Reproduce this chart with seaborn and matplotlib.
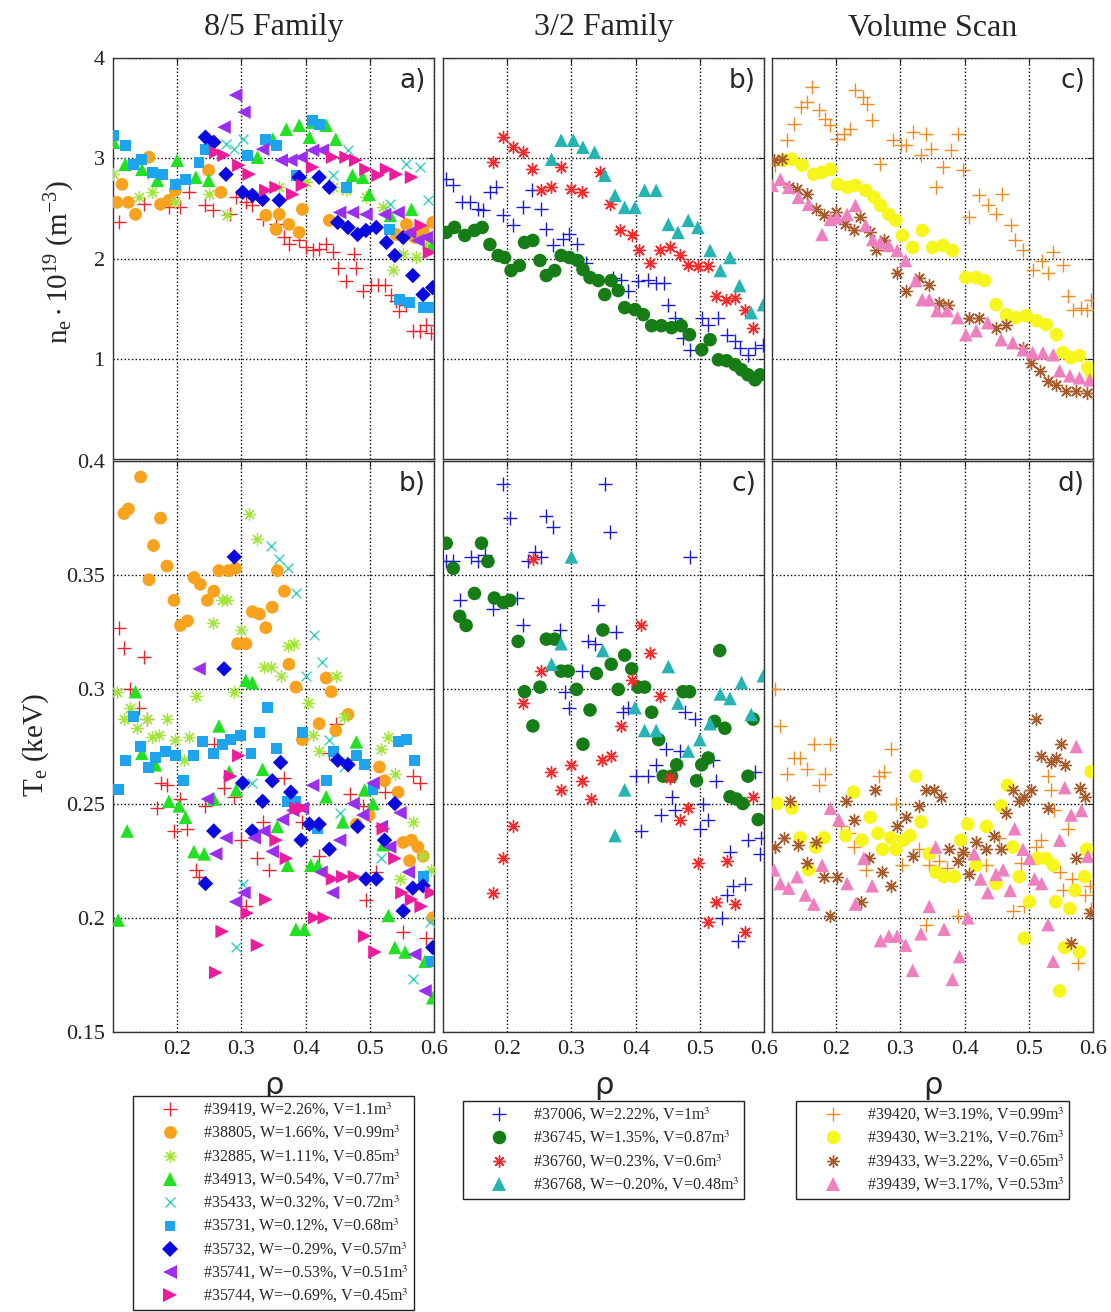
import numpy as np
import matplotlib
matplotlib.use('Agg')
import matplotlib.pyplot as plt
from matplotlib.lines import Line2D
import seaborn as sns

# ---------------- data ----------------
# top row: n_e * 1e19 (m^-3) vs rho ; bottom row: T_e (keV) vs rho

# 8/5 family
ne_39419_rho = [0.109,0.148,0.187,0.205,0.218,0.244,0.255,0.283,0.291,0.307,0.317,0.333,0.354,0.367,0.374,0.390,0.400,0.411,0.421,0.432,0.442,0.450,0.463,0.476,0.479,0.489,0.502,0.513,0.523,0.533,0.541,0.546,0.557,0.567,0.578,0.588,0.596]
ne_39419_val = [2.36,2.54,2.51,2.51,2.66,2.53,2.48,2.44,2.61,2.56,2.53,2.39,2.34,2.21,2.14,2.18,2.11,2.08,2.09,2.14,2.06,1.91,1.78,2.04,1.91,1.68,1.74,1.74,1.74,1.64,1.58,1.48,1.54,1.28,1.28,1.34,1.26]
ne_38805_rho = [0.106,0.124,0.135,0.114,0.156,0.174,0.187,0.197,0.249,0.268,0.338,0.359,0.354,0.374,0.390,0.395,0.437,0.541,0.557,0.570,0.583,0.598]
ne_38805_val = [2.56,2.56,2.44,2.74,3.01,2.54,2.58,2.68,2.88,2.66,2.43,2.44,2.29,2.34,2.26,2.49,2.38,2.24,2.34,2.21,2.28,2.36]
ne_32885_rho = [0.100,0.140,0.161,0.197,0.249,0.278,0.328,0.359,0.400,0.442,0.463,0.494,0.520,0.536,0.552,0.572,0.588]
ne_32885_val = [2.84,2.61,2.66,2.56,2.64,2.43,2.64,2.71,2.76,2.71,2.68,2.61,2.51,1.89,2.04,2.01,2.14]
ne_34913_rho = [0.101,0.119,0.145,0.169,0.200,0.229,0.249,0.325,0.349,0.370,0.390,0.411,0.432,0.406,0.447,0.473,0.489,0.499,0.532,0.565,0.598]
ne_34913_val = [3.16,2.94,2.89,2.78,2.98,2.81,2.78,3.01,3.19,3.29,3.33,3.36,3.33,3.21,3.19,2.83,2.81,2.64,2.43,2.49,2.14]
ne_35433_rho = [0.161,0.276,0.289,0.302,0.442,0.466,0.531,0.557,0.578,0.591]
ne_35433_val = [2.84,3.14,3.09,3.19,2.83,3.08,2.54,2.94,2.91,2.58]
ne_35731_rho = [0.101,0.119,0.132,0.145,0.161,0.177,0.197,0.213,0.234,0.244,0.309,0.338,0.354,0.385,0.411,0.421,0.463,0.531,0.546,0.562,0.583,0.598]
ne_35731_val = [3.23,3.13,2.94,2.99,2.86,2.84,2.74,2.79,2.96,3.09,3.03,3.19,3.13,2.83,3.38,3.34,2.71,2.29,1.59,1.56,1.51,1.51]
ne_35732_rho = [0.244,0.257,0.276,0.302,0.317,0.333,0.359,0.390,0.421,0.437,0.450,0.466,0.481,0.494,0.510,0.526,0.539,0.552,0.567,0.583,0.598]
ne_35732_val = [3.21,3.16,2.84,2.66,2.63,2.59,2.58,2.81,2.81,2.71,2.36,2.31,2.24,2.28,2.31,2.16,2.03,2.21,1.83,1.64,1.71]
ne_35741_rho = [0.273,0.291,0.304,0.333,0.362,0.377,0.393,0.411,0.426,0.453,0.473,0.494,0.523,0.544,0.562,0.575,0.588]
ne_35741_val = [3.31,3.63,3.46,3.09,2.98,2.98,3.01,3.08,3.08,2.46,2.46,2.44,2.44,2.46,2.26,2.18,2.21]
ne_35744_rho = [0.260,0.273,0.296,0.312,0.338,0.354,0.380,0.395,0.411,0.442,0.463,0.478,0.494,0.513,0.526,0.541,0.565,0.580,0.593]
ne_35744_val = [3.06,3.03,2.93,2.84,2.68,2.71,2.64,2.73,2.91,3.01,3.01,2.98,2.89,2.83,2.89,2.84,2.81,2.33,2.06]

te_39419_rho = [0.109,0.117,0.148,0.127,0.140,0.153,0.174,0.184,0.169,0.205,0.195,0.216,0.229,0.234,0.244,0.257,0.273,0.289,0.300,0.307,0.325,0.333,0.343,0.367,0.395,0.421,0.437,0.447,0.469,0.489,0.494,0.510,0.523,0.552,0.567,0.578,0.588]
te_39419_val = [0.327,0.318,0.314,0.300,0.292,0.287,0.259,0.258,0.248,0.252,0.238,0.239,0.221,0.218,0.249,0.276,0.257,0.253,0.234,0.205,0.226,0.242,0.221,0.261,0.242,0.227,0.272,0.285,0.254,0.249,0.208,0.220,0.255,0.194,0.262,0.259,0.191]
te_38805_rho = [0.117,0.124,0.143,0.174,0.163,0.184,0.156,0.195,0.205,0.216,0.226,0.236,0.257,0.247,0.265,0.280,0.291,0.294,0.307,0.317,0.328,0.338,0.348,0.356,0.367,0.374,0.385,0.395,0.421,0.432,0.440,0.447,0.466,0.479,0.499,0.515,0.523,0.544,0.552,0.565,0.575,0.583,0.562,0.598]
te_38805_val = [0.377,0.379,0.393,0.375,0.363,0.354,0.348,0.339,0.328,0.330,0.349,0.346,0.343,0.339,0.352,0.352,0.353,0.320,0.320,0.334,0.333,0.327,0.336,0.352,0.343,0.311,0.301,0.278,0.285,0.305,0.299,0.282,0.289,0.241,0.245,0.266,0.260,0.255,0.233,0.234,0.231,0.227,0.225,0.200]
te_32885_rho = [0.106,0.117,0.127,0.138,0.153,0.161,0.171,0.184,0.197,0.210,0.218,0.229,0.255,0.270,0.278,0.289,0.299,0.312,0.325,0.335,0.346,0.361,0.372,0.382,0.404,0.411,0.421,0.447,0.460,0.465,0.528,0.518,0.539,0.547,0.567,0.583,0.596]
te_32885_val = [0.299,0.287,0.292,0.283,0.287,0.279,0.280,0.287,0.278,0.269,0.279,0.297,0.329,0.339,0.339,0.299,0.326,0.377,0.366,0.310,0.310,0.306,0.319,0.320,0.294,0.280,0.273,0.306,0.288,0.268,0.279,0.274,0.263,0.217,0.242,0.227,0.221]
te_34913_rho = [0.108,0.122,0.135,0.145,0.166,0.187,0.203,0.213,0.226,0.242,0.257,0.265,0.281,0.292,0.307,0.317,0.333,0.356,0.372,0.385,0.398,0.408,0.419,0.432,0.458,0.479,0.492,0.505,0.521,0.529,0.539,0.555,0.586,0.598]
te_34913_val = [0.199,0.238,0.299,0.272,0.267,0.251,0.249,0.244,0.229,0.228,0.252,0.284,0.264,0.256,0.304,0.303,0.265,0.240,0.223,0.195,0.195,0.223,0.223,0.253,0.242,0.277,0.256,0.250,0.232,0.201,0.187,0.185,0.181,0.165]
te_35433_rho = [0.291,0.302,0.317,0.346,0.359,0.372,0.385,0.400,0.413,0.426,0.437,0.453,0.460,0.518,0.567,0.593]
te_35433_val = [0.187,0.215,0.259,0.363,0.357,0.353,0.342,0.306,0.324,0.312,0.278,0.246,0.266,0.226,0.173,0.198]
te_35731_rho = [0.109,0.119,0.132,0.143,0.156,0.166,0.182,0.197,0.210,0.226,0.239,0.257,0.270,0.283,0.299,0.315,0.328,0.341,0.354,0.372,0.385,0.395,0.419,0.432,0.444,0.479,0.492,0.505,0.544,0.557,0.570,0.583,0.596]
te_35731_val = [0.256,0.269,0.288,0.275,0.266,0.270,0.273,0.271,0.260,0.271,0.277,0.272,0.276,0.278,0.280,0.272,0.281,0.292,0.274,0.251,0.251,0.281,0.239,0.260,0.273,0.271,0.267,0.256,0.277,0.278,0.269,0.218,0.181]
te_35732_rho = [0.289,0.273,0.244,0.257,0.302,0.317,0.333,0.348,0.361,0.377,0.393,0.406,0.421,0.437,0.450,0.466,0.481,0.494,0.510,0.523,0.539,0.552,0.567,0.583,0.598]
te_35732_val = [0.358,0.309,0.215,0.238,0.259,0.238,0.251,0.260,0.268,0.255,0.234,0.241,0.241,0.230,0.269,0.267,0.240,0.217,0.217,0.234,0.250,0.203,0.213,0.214,0.187]
te_35741_rho = [0.234,0.247,0.260,0.276,0.291,0.304,0.320,0.335,0.348,0.364,0.380,0.395,0.411,0.424,0.442,0.453,0.474,0.489,0.505,0.518,0.531,0.547,0.560,0.570,0.586]
te_35741_val = [0.309,0.252,0.228,0.235,0.207,0.211,0.235,0.238,0.229,0.243,0.247,0.248,0.258,0.220,0.211,0.234,0.250,0.245,0.259,0.240,0.231,0.246,0.220,0.184,0.168]
te_35744_rho = [0.296,0.283,0.260,0.270,0.309,0.325,0.338,0.354,0.370,0.385,0.395,0.414,0.429,0.442,0.458,0.476,0.492,0.508,0.521,0.539,0.550,0.565,0.580,0.596]
te_35744_val = [0.271,0.262,0.176,0.194,0.202,0.188,0.208,0.234,0.226,0.248,0.248,0.200,0.200,0.217,0.218,0.218,0.192,0.185,0.239,0.226,0.211,0.208,0.205,0.211]

# 3/2 family
ne_37006_rho = [0.105,0.116,0.129,0.142,0.155,0.162,0.173,0.183,0.194,0.209,0.225,0.238,0.253,0.261,0.271,0.287,0.297,0.308,0.323,0.365,0.378,0.388,0.404,0.419,0.432,0.445,0.451,0.462,0.474,0.484,0.503,0.513,0.529,0.542,0.555,0.562,0.575,0.586,0.599]
ne_37006_val = [2.79,2.73,2.56,2.56,2.49,2.48,2.66,2.71,2.43,2.33,2.51,2.68,2.49,2.29,2.13,2.19,2.24,2.14,1.96,1.81,1.79,1.68,1.78,1.79,1.76,1.76,1.54,1.41,1.21,1.09,1.41,1.34,1.41,1.24,1.18,1.11,1.04,1.11,1.14]
ne_36745_rho = [0.105,0.118,0.134,0.149,0.161,0.173,0.186,0.196,0.206,0.219,0.227,0.240,0.251,0.261,0.274,0.284,0.297,0.310,0.318,0.329,0.342,0.352,0.362,0.373,0.383,0.399,0.412,0.425,0.440,0.456,0.471,0.484,0.503,0.516,0.529,0.542,0.555,0.565,0.575,0.586,0.594]
ne_36745_val = [2.26,2.31,2.23,2.28,2.31,2.14,2.03,2.01,1.88,1.93,2.16,2.18,1.98,1.83,1.88,2.03,2.01,1.98,1.89,1.81,1.78,1.64,1.78,1.68,1.51,1.49,1.44,1.33,1.33,1.31,1.33,1.24,1.09,1.19,0.99,0.98,0.94,0.89,0.84,0.79,0.84]
ne_36760_rho = [0.178,0.194,0.209,0.225,0.238,0.253,0.269,0.284,0.300,0.316,0.344,0.360,0.375,0.394,0.406,0.422,0.438,0.453,0.469,0.482,0.497,0.513,0.526,0.541,0.555,0.570,0.583]
ne_36760_val = [2.96,3.21,3.11,3.06,2.89,2.68,2.71,2.91,2.69,2.66,2.86,2.54,2.28,2.23,2.08,1.96,2.08,2.11,2.03,1.94,1.93,1.93,1.63,1.59,1.61,1.49,1.31]
ne_36768_rho = [0.269,0.284,0.303,0.318,0.336,0.352,0.368,0.383,0.399,0.414,0.432,0.451,0.466,0.482,0.497,0.516,0.532,0.547,0.562,0.580,0.599]
ne_36768_val = [2.99,3.18,3.18,3.11,3.06,2.83,2.63,2.51,2.51,2.68,2.68,2.34,2.26,2.38,2.31,2.08,1.88,2.01,1.73,1.46,1.54]

te_37006_rho = [0.105,0.116,0.126,0.144,0.155,0.165,0.178,0.194,0.204,0.215,0.225,0.232,0.243,0.253,0.261,0.271,0.282,0.290,0.297,0.316,0.326,0.336,0.342,0.352,0.360,0.370,0.381,0.388,0.401,0.409,0.419,0.432,0.448,0.456,0.440,0.461,0.469,0.477,0.484,0.492,0.500,0.505,0.513,0.521,0.526,0.534,0.542,0.547,0.552,0.560,0.570,0.575,0.586,0.593,0.596]
te_37006_val = [0.356,0.356,0.339,0.358,0.356,0.359,0.335,0.390,0.375,0.340,0.328,0.356,0.360,0.358,0.376,0.371,0.326,0.299,0.292,0.308,0.321,0.320,0.337,0.390,0.369,0.325,0.290,0.292,0.262,0.238,0.262,0.267,0.274,0.253,0.245,0.247,0.273,0.290,0.358,0.287,0.239,0.250,0.243,0.269,0.260,0.200,0.210,0.229,0.214,0.190,0.215,0.234,0.264,0.228,0.235]
te_36745_rho = [0.105,0.116,0.126,0.136,0.149,0.160,0.170,0.180,0.194,0.204,0.217,0.227,0.240,0.251,0.261,0.274,0.284,0.295,0.308,0.318,0.329,0.339,0.349,0.362,0.373,0.383,0.394,0.404,0.414,0.425,0.436,0.443,0.456,0.464,0.474,0.484,0.495,0.503,0.513,0.523,0.531,0.539,0.547,0.557,0.567,0.575,0.583,0.591]
te_36745_val = [0.364,0.353,0.332,0.328,0.342,0.364,0.356,0.340,0.338,0.339,0.321,0.299,0.284,0.301,0.322,0.322,0.308,0.308,0.300,0.276,0.291,0.307,0.326,0.311,0.300,0.315,0.309,0.301,0.301,0.290,0.278,0.262,0.262,0.267,0.299,0.299,0.260,0.267,0.270,0.286,0.317,0.283,0.253,0.252,0.250,0.262,0.287,0.243]
te_36760_rho = [0.178,0.194,0.209,0.225,0.240,0.253,0.269,0.284,0.300,0.316,0.331,0.347,0.362,0.378,0.394,0.409,0.422,0.438,0.453,0.469,0.482,0.497,0.513,0.526,0.542,0.555,0.570,0.583]
te_36760_val = [0.211,0.226,0.240,0.294,0.357,0.308,0.264,0.256,0.267,0.260,0.252,0.269,0.271,0.284,0.304,0.328,0.316,0.297,0.261,0.243,0.248,0.224,0.198,0.207,0.225,0.206,0.194,0.253]
te_36768_rho = [0.269,0.284,0.300,0.349,0.368,0.383,0.399,0.414,0.432,0.451,0.466,0.482,0.500,0.516,0.532,0.547,0.565,0.580,0.599]
te_36768_val = [0.311,0.320,0.358,0.317,0.236,0.256,0.292,0.282,0.282,0.310,0.294,0.273,0.278,0.285,0.298,0.296,0.303,0.289,0.306]

# volume scan
ne_39420_rho = [0.105,0.123,0.134,0.145,0.155,0.163,0.173,0.183,0.191,0.202,0.212,0.222,0.230,0.241,0.248,0.256,0.269,0.288,0.301,0.309,0.319,0.332,0.340,0.348,0.355,0.366,0.379,0.389,0.397,0.407,0.423,0.436,0.449,0.459,0.472,0.478,0.491,0.506,0.520,0.530,0.538,0.553,0.561,0.569,0.582,0.590,0.597]
ne_39420_val = [2.93,3.18,3.34,3.51,3.56,3.71,3.48,3.39,3.33,3.19,3.24,3.29,3.68,3.61,3.54,3.38,2.94,3.18,3.13,3.13,3.26,3.03,3.24,3.09,2.71,2.91,3.08,3.24,2.88,2.41,2.63,2.53,2.44,2.64,2.33,2.18,2.08,1.89,1.98,1.86,2.06,1.94,1.63,1.49,1.51,1.49,1.59]
ne_39430_rho = [0.118,0.131,0.147,0.165,0.178,0.191,0.202,0.217,0.230,0.246,0.259,0.269,0.282,0.293,0.303,0.319,0.334,0.350,0.366,0.381,0.402,0.418,0.431,0.449,0.465,0.480,0.496,0.512,0.527,0.543,0.553,0.566,0.579,0.592,0.598]
ne_39430_val = [2.98,2.99,2.93,2.84,2.86,2.89,2.74,2.71,2.73,2.68,2.61,2.53,2.44,2.38,2.23,2.11,2.28,2.11,2.13,2.08,1.81,1.81,1.78,1.54,1.44,1.41,1.43,1.38,1.34,1.24,1.06,1.01,1.03,0.91,0.84]
ne_39433_rho = [0.103,0.116,0.126,0.139,0.155,0.168,0.181,0.199,0.214,0.227,0.237,0.252,0.262,0.274,0.295,0.308,0.329,0.345,0.360,0.374,0.407,0.423,0.449,0.465,0.491,0.503,0.517,0.530,0.543,0.558,0.574,0.590]
ne_39433_val = [2.98,2.99,2.71,2.69,2.64,2.49,2.43,2.46,2.34,2.28,2.41,2.26,2.08,2.18,1.86,1.68,1.81,1.74,1.56,1.54,1.41,1.41,1.31,1.34,1.11,0.96,0.88,0.78,0.74,0.68,0.68,0.66]
ne_39439_rho = [0.100,0.113,0.126,0.141,0.157,0.178,0.191,0.201,0.217,0.230,0.246,0.257,0.269,0.282,0.295,0.308,0.324,0.334,0.345,0.357,0.373,0.389,0.402,0.418,0.436,0.457,0.475,0.491,0.506,0.522,0.538,0.548,0.564,0.579,0.595]
ne_39439_val = [2.73,2.79,2.71,2.61,2.54,2.24,2.39,2.41,2.44,2.53,2.33,2.19,2.16,2.13,2.08,1.98,1.78,1.59,1.59,1.48,1.48,1.41,1.24,1.28,1.36,1.19,1.16,1.09,1.06,1.06,1.04,0.88,0.83,0.81,0.79]

te_39420_rho = [0.105,0.113,0.123,0.134,0.144,0.155,0.165,0.173,0.183,0.191,0.207,0.220,0.228,0.246,0.267,0.274,0.285,0.293,0.303,0.329,0.340,0.345,0.360,0.373,0.389,0.397,0.433,0.454,0.475,0.488,0.493,0.511,0.519,0.530,0.535,0.540,0.548,0.553,0.561,0.568,0.576,0.587,0.595,0.597]
te_39420_val = [0.300,0.284,0.263,0.270,0.270,0.265,0.276,0.258,0.263,0.276,0.240,0.237,0.231,0.221,0.262,0.264,0.274,0.250,0.223,0.230,0.197,0.223,0.225,0.222,0.201,0.228,0.223,0.235,0.203,0.224,0.205,0.231,0.234,0.262,0.256,0.247,0.220,0.212,0.239,0.217,0.180,0.210,0.214,0.204]
te_39430_rho = [0.108,0.131,0.144,0.157,0.168,0.181,0.215,0.227,0.240,0.253,0.265,0.272,0.285,0.293,0.305,0.315,0.324,0.332,0.345,0.355,0.368,0.384,0.394,0.405,0.418,0.434,0.449,0.467,0.457,0.475,0.485,0.493,0.501,0.514,0.527,0.538,0.542,0.548,0.556,0.564,0.572,0.579,0.587,0.590,0.597]
te_39430_val = [0.250,0.248,0.235,0.221,0.231,0.235,0.236,0.255,0.234,0.244,0.237,0.230,0.235,0.230,0.234,0.236,0.262,0.242,0.228,0.220,0.218,0.218,0.234,0.241,0.223,0.240,0.215,0.258,0.249,0.231,0.218,0.191,0.207,0.226,0.226,0.223,0.207,0.168,0.187,0.204,0.212,0.185,0.218,0.230,0.264]
te_39433_rho = [0.105,0.118,0.128,0.141,0.155,0.168,0.181,0.191,0.202,0.215,0.228,0.238,0.251,0.261,0.272,0.285,0.295,0.308,0.319,0.329,0.340,0.353,0.363,0.376,0.389,0.397,0.407,0.418,0.433,0.446,0.457,0.465,0.475,0.485,0.493,0.503,0.511,0.519,0.530,0.535,0.543,0.550,0.557,0.566,0.574,0.579,0.587,0.595]
te_39433_val = [0.231,0.235,0.251,0.232,0.224,0.233,0.218,0.201,0.218,0.251,0.243,0.207,0.226,0.256,0.220,0.214,0.240,0.244,0.227,0.249,0.256,0.256,0.253,0.230,0.225,0.229,0.219,0.233,0.230,0.236,0.230,0.246,0.256,0.251,0.253,0.256,0.287,0.271,0.248,0.268,0.270,0.276,0.267,0.189,0.226,0.257,0.253,0.202]
te_39439_rho = [0.103,0.113,0.126,0.139,0.152,0.165,0.178,0.191,0.204,0.217,0.230,0.243,0.256,0.269,0.282,0.295,0.308,0.319,0.332,0.345,0.355,0.368,0.381,0.392,0.405,0.415,0.425,0.436,0.449,0.460,0.471,0.478,0.491,0.501,0.509,0.520,0.530,0.538,0.548,0.556,0.566,0.574,0.582,0.592]
te_39439_val = [0.221,0.215,0.213,0.218,0.210,0.206,0.223,0.248,0.243,0.215,0.206,0.226,0.214,0.190,0.192,0.192,0.188,0.177,0.193,0.205,0.231,0.195,0.173,0.183,0.200,0.228,0.217,0.211,0.219,0.221,0.212,0.239,0.230,0.226,0.217,0.215,0.197,0.181,0.234,0.257,0.245,0.275,0.247,0.227]

col_titles = ['8/5 Family', '3/2 Family', 'Volume Scan']
top_tags = ['a)', 'b)', 'c)']
bot_tags = ['b)', 'c)', 'd)']

# shots per column, with legend labels
columns = [
    [('39419', '#39419, W=2.26%, V=1.1m$^3$'),
     ('38805', '#38805, W=1.66%, V=0.99m$^3$'),
     ('32885', '#32885, W=1.11%, V=0.85m$^3$'),
     ('34913', '#34913, W=0.54%, V=0.77m$^3$'),
     ('35433', '#35433, W=0.32%, V=0.72m$^3$'),
     ('35731', '#35731, W=0.12%, V=0.68m$^3$'),
     ('35732', '#35732, W=\u22120.29%, V=0.57m$^3$'),
     ('35741', '#35741, W=\u22120.53%, V=0.51m$^3$'),
     ('35744', '#35744, W=\u22120.69%, V=0.45m$^3$')],
    [('37006', '#37006, W=2.22%, V=1m$^3$'),
     ('36745', '#36745, W=1.35%, V=0.87m$^3$'),
     ('36760', '#36760, W=0.23%, V=0.6m$^3$'),
     ('36768', '#36768, W=\u22120.20%, V=0.48m$^3$')],
    [('39420', '#39420, W=3.19%, V=0.99m$^3$'),
     ('39430', '#39430, W=3.21%, V=0.76m$^3$'),
     ('39433', '#39433, W=3.22%, V=0.65m$^3$'),
     ('39439', '#39439, W=3.17%, V=0.53m$^3$')],
]

ASTER = (8, 2, 0)
style = {
    '39419': dict(marker='+', color='#e8262b', s=110, lw=1.0),
    '38805': dict(marker='o', color='#f9a21e', s=85, lw=0),
    '32885': dict(marker=ASTER, color='#a2e63c', s=75, lw=0.9),
    '34913': dict(marker='^', color='#22e022', s=95, lw=0),
    '35433': dict(marker='x', color='#35d0c0', s=50, lw=1.0),
    '35731': dict(marker='s', color='#1ea4ee', s=62, lw=0),
    '35732': dict(marker='D', color='#0a0ae0', s=62, lw=0),
    '35741': dict(marker='<', color='#9a2ff0', s=95, lw=0),
    '35744': dict(marker='>', color='#ee1b9c', s=95, lw=0),
    '37006': dict(marker='+', color='#1a1ad0', s=110, lw=1.0),
    '36745': dict(marker='o', color='#167c16', s=95, lw=0),
    '36760': dict(marker=ASTER, color='#f52a2a', s=75, lw=1.0),
    '36768': dict(marker='^', color='#24b4b4', s=95, lw=0),
    '39420': dict(marker='+', color='#f08c1e', s=110, lw=1.0),
    '39430': dict(marker='o', color='#f6f61c', s=95, lw=0),
    '39433': dict(marker=ASTER, color='#a85c2c', s=75, lw=1.0),
    '39439': dict(marker='^', color='#ee80bf', s=95, lw=0),
}

sns.set_style('white')
plt.rcParams['font.family'] = ['Liberation Serif', 'DejaVu Serif']
plt.rcParams['mathtext.fontset'] = 'stix'

W, H = 1111, 1312
fig = plt.figure(figsize=(W / 100, H / 100), dpi=100)

lefts = [113, 443, 772]
aw = 321
legend_tops = [1096, 1101, 1101]
g = globals()

for c in range(3):
    ax_t = fig.add_axes([lefts[c] / W, 1 - 459 / H, aw / W, 401 / H])
    ax_b = fig.add_axes([lefts[c] / W, 1 - 1032 / H, aw / W, 571 / H])
    handles, labels = [], []
    for shot, lab in columns[c]:
        st = style[shot]
        filled = st['lw'] == 0
        for ax, pre in ((ax_t, 'ne_'), (ax_b, 'te_')):
            sns.scatterplot(x=g[pre + shot + '_rho'], y=g[pre + shot + '_val'], ax=ax,
                            marker=st['marker'], s=st['s'], color=st['color'],
                            edgecolor='none' if filled else st['color'],
                            linewidth=st['lw'], legend=False, zorder=3, clip_on=True)
        handles.append(Line2D([], [], linestyle='none', marker=st['marker'],
                              markersize=np.sqrt(st['s']), color=st['color'],
                              markeredgecolor=st['color'],
                              markeredgewidth=st['lw'] if not filled else 0))
        labels.append(lab)

    for ax in (ax_t, ax_b):
        ax.set_xlim(0.1, 0.6)
        ax.set_xticks([0.2, 0.3, 0.4, 0.5, 0.6])
        ax.grid(True, linestyle=':', color='k', linewidth=1.0)
        ax.set_axisbelow(True)
        ax.tick_params(direction='in', top=True, right=True, length=4,
                       labelsize=16, colors='#222222', pad=6)
        for sp in ax.spines.values():
            sp.set_color('#333333')
            sp.set_linewidth(1.0)
        ax.set_xlabel('')
        ax.set_ylabel('')
    ax_t.set_ylim(0, 4)
    ax_t.set_yticks([1, 2, 3, 4])
    ax_b.set_ylim(0.15, 0.4)
    ax_b.set_yticks([0.15, 0.2, 0.25, 0.3, 0.35, 0.4])
    ax_b.set_yticklabels(['0.15', '0.2', '0.25', '0.3', '0.35', '0.4'])
    ax_t.tick_params(labelbottom=False)
    if c > 0:
        ax_t.tick_params(labelleft=False)
        ax_b.tick_params(labelleft=False)

    ax_t.text(0.975, 0.975, top_tags[c], transform=ax_t.transAxes, ha='right', va='top',
              fontsize=19, family='DejaVu Sans')
    ax_b.text(0.975, 0.982, bot_tags[c], transform=ax_b.transAxes, ha='right', va='top',
              fontsize=19, family='DejaVu Sans')

    cx = (lefts[c] + aw / 2) / W
    fig.text(cx, 1 - 28 / H, col_titles[c], ha='center', va='center', fontsize=23)
    fig.text(cx, 1 - 1085 / H, '\u03c1', ha='center', va='center', fontsize=22,
             family='DejaVu Sans')
    fig.legend(handles, labels, loc='upper center',
               bbox_to_anchor=(cx, 1 - legend_tops[c] / H),
               bbox_transform=fig.transFigure, fontsize=11.5, frameon=True,
               fancybox=False, edgecolor='#222222', framealpha=1,
               labelspacing=0.31, handlelength=4.0, handletextpad=0.1,
               borderpad=0.3, borderaxespad=0)

fig.text(60 / W, 1 - 262 / H, r'$\mathregular{n_e\cdot 10^{19}\ (m^{-3})}$', rotation=90,
         ha='center', va='center', fontsize=21)
fig.text(36 / W, 1 - 745 / H, r'$\mathregular{T_e}$ (keV)', rotation=90,
         ha='center', va='center', fontsize=21)

fig.savefig('out.png', dpi=100)
